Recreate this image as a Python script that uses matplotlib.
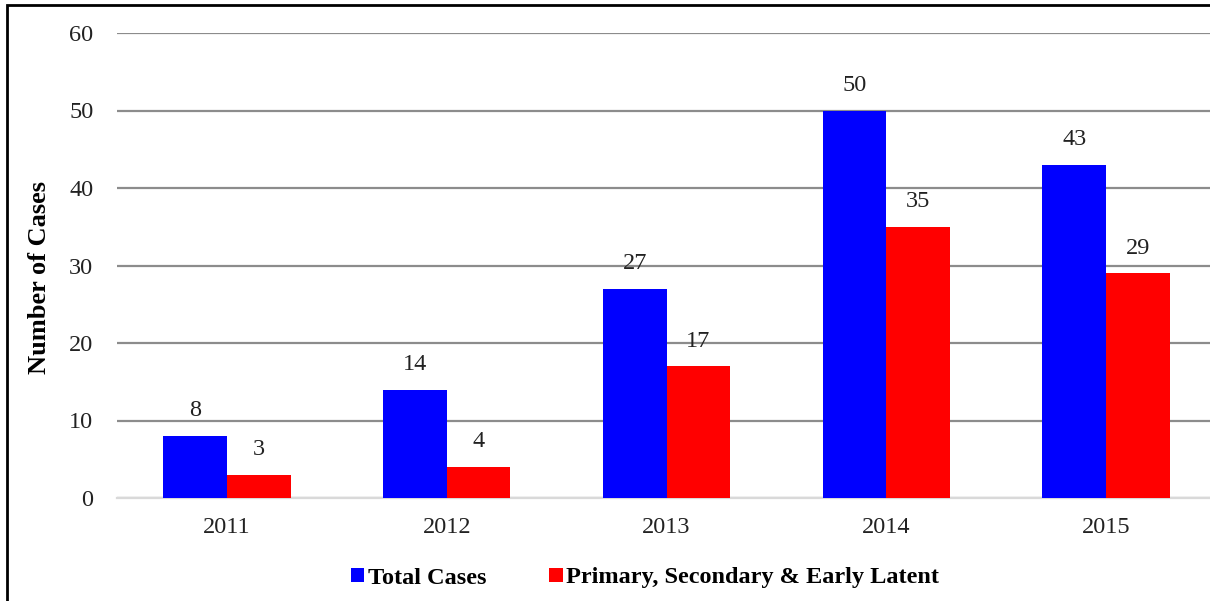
import matplotlib
matplotlib.use("Agg")
import matplotlib.pyplot as plt
from matplotlib.patches import Rectangle
import numpy as np

years = ["2011", "2012", "2013", "2014", "2015"]
total_cases = [8, 14, 27, 50, 43]
early_syphilis = [3, 4, 17, 35, 29]
series_names = ["Total Cases", "Primary, Secondary & Early Latent"]

W, H = 1210, 601
fig = plt.figure(figsize=(W / 100, H / 100), dpi=100)
plt.rcParams["font.family"] = ["Liberation Serif", "DejaVu Serif"]

# plot area in pixel coordinates (left, top, right, bottom)
L, T, R, B = 117, 33, 1216, 498
ax = fig.add_axes([L / W, 1 - B / H, (R - L) / W, (B - T) / H])

x = np.arange(len(years))
bw = 0.29
b1 = ax.bar(x - bw / 2, total_cases, bw, color="#0000FF", label=series_names[0], zorder=3)
b2 = ax.bar(x + bw / 2, early_syphilis, bw, color="#FF0000", label=series_names[1], zorder=3)

for bars, vals in ((b1, total_cases), (b2, early_syphilis)):
    for rect, v in zip(bars, vals):
        ax.text(rect.get_x() + rect.get_width() / 2, v + 1.9, f"{v}",
                ha="center", va="bottom", fontsize=17.5, color="#222222")

ax.set_xlim(-0.5, len(years) - 0.5)
ax.set_ylim(0, 60)
ax.set_yticks(range(0, 61, 10))
ax.set_xticks(x)
ax.set_xticklabels(years)
ax.yaxis.grid(True, color="#8c8c8c", linewidth=1.6, zorder=0)
ax.set_axisbelow(True)
for s in ("top", "right", "left"):
    ax.spines[s].set_visible(False)
ax.spines["bottom"].set_color("#d9d9d9")
ax.spines["bottom"].set_linewidth(1.6)
ax.tick_params(axis="both", length=0, labelsize=17.5, colors="#222222")
ax.tick_params(axis="y", pad=17)
ax.tick_params(axis="x", pad=14)

fig.text(40 / W, 1 - 277 / H, "Number of Cases", rotation=90, ha="center", va="center",
         fontsize=19, fontweight="bold")

leg = fig.legend(handles=[b1, b2], labels=series_names, loc="center",
                 bbox_to_anchor=(645 / W, 1 - 578 / H), ncol=2, frameon=False,
                 prop={"weight": "bold", "size": 17.5}, handlelength=0.55, handleheight=0.55,
                 handletextpad=0.15, columnspacing=2.6)

# outer frame
fig.patches.append(Rectangle((7 / W, -0.1), 1.2, 1 - 5 / H + 0.1, transform=fig.transFigure,
                             fill=False, edgecolor="black", linewidth=2))

fig.savefig("out.png", dpi=100)
